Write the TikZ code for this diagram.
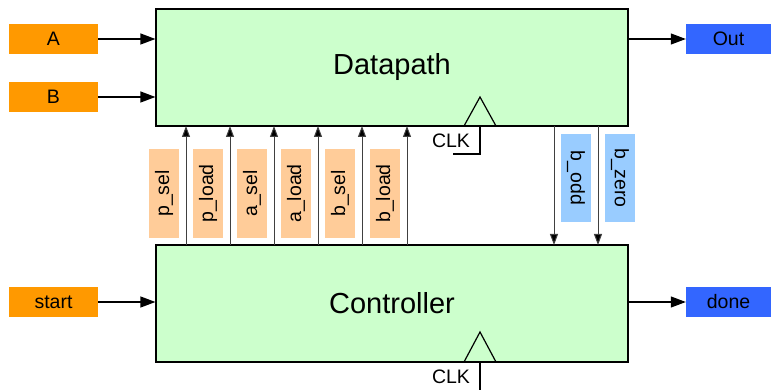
\documentclass[tikz,border=0pt]{standalone}
\usepackage{fontspec}
\setmainfont{Liberation Sans}
\usetikzlibrary{arrows.meta}
\definecolor{blockgreen}{HTML}{CCFFCC}
\definecolor{inorange}{HTML}{FF9900}
\definecolor{outblue}{HTML}{3366FF}
\definecolor{ctrlpeach}{HTML}{FFCC99}
\definecolor{statblue}{HTML}{99CCFF}
\tikzset{
  block/.style={draw=black, line width=1.2pt, fill=blockgreen, minimum width=472pt, minimum height=117pt, inner sep=0pt, font=\fontsize{29}{34}\selectfont},
  inport/.style={fill=inorange, minimum width=89pt, minimum height=30pt, inner sep=0pt, font=\fontsize{19.5}{23}\selectfont},
  outport/.style={fill=outblue, minimum width=85pt, minimum height=30pt, inner sep=0pt, font=\fontsize{19.5}{23}\selectfont},
  ctltag/.style={fill=ctrlpeach, minimum width=89pt, minimum height=30pt, inner sep=0pt, rotate=90, font=\fontsize{19.5}{23}\selectfont},
  stattag/.style={fill=statblue, minimum width=88pt, minimum height=30pt, inner sep=0pt, rotate=-90, font=\fontsize{19.5}{23}\selectfont},
  bigarrow/.style={line width=1.2pt, -{Triangle[length=15pt,width=11pt]}},
  sigarrow/.style={draw=black!75, line width=1pt, -{Triangle[length=11pt,width=8pt,fill=black]}},
  clkline/.style={line width=1.2pt},
  clklabel/.style={font=\fontsize{19.5}{23}\selectfont, inner sep=0pt}
}
\begin{document}
\begin{tikzpicture}[x=1pt, y=-1pt]
\useasboundingbox (0,0) rectangle (771,390);

% main blocks
\node[block] (dp) at (392,67.5) {Datapath};
\node[block] (ct) at (392,303.5) {Controller};

% external ports
\node[inport] (A) at (53.5,39) {A};
\node[inport] (B) at (53.5,97) {B};
\node[inport] (start) at (53.5,302) {start};
\node[outport] (out) at (728.5,39) {Out};
\node[outport] (done) at (728.5,302) {done};

\draw[bigarrow] (A.east) -- (A.east -| dp.west);
\draw[bigarrow] (B.east) -- (B.east -| dp.west);
\draw[bigarrow] (start.east) -- (start.east -| ct.west);
\draw[bigarrow] (out.west -| dp.east) -- (out.west);
\draw[bigarrow] (done.west -| ct.east) -- (done.west);

% control signals: controller -> datapath
\foreach \nm/\lbl/\x in {ps/p\_sel/186, pl/p\_load/230, as/a\_sel/274, al/a\_load/318, bs/b\_sel/362, bl/b\_load/407}{
  \node[ctltag] (tag\nm) at (\x-22,193.5) {\lbl};
  \coordinate (src\nm) at (\x,245);
  \coordinate (dst\nm) at (\x,126);
  \draw[sigarrow] (src\nm) -- (dst\nm);
}

% status signals: datapath -> controller
\foreach \nm/\lbl/\x in {bo/b\_odd/554, bz/b\_zero/598}{
  \node[stattag] (tag\nm) at (\x+22,178) {\lbl};
  \coordinate (src\nm) at (\x,126);
  \coordinate (dst\nm) at (\x,245);
  \draw[sigarrow] (src\nm) -- (dst\nm);
}

% clock inputs
\coordinate (dpclkL) at (464,126);
\coordinate (dpclkT) at (480,97);
\coordinate (dpclkR) at (496,126);
\coordinate (dpclkB) at (480,154);
\coordinate (dpclkE) at (453,154);
\draw[clkline, line join=miter] (dpclkL) -- (dpclkT) -- (dpclkR);
\draw[clkline] (480,126) -- (dpclkB) -- (dpclkE);
\node[clklabel] (dpclk) at (451,141) {CLK};

\coordinate (ctclkL) at (464,362);
\coordinate (ctclkT) at (480,332);
\coordinate (ctclkR) at (496,362);
\coordinate (ctclkB) at (480,390);
\draw[clkline, line join=miter] (ctclkL) -- (ctclkT) -- (ctclkR);
\draw[clkline] (480,362) -- (ctclkB);
\node[clklabel] (ctclk) at (451,377) {CLK};
\end{tikzpicture}
\end{document}
